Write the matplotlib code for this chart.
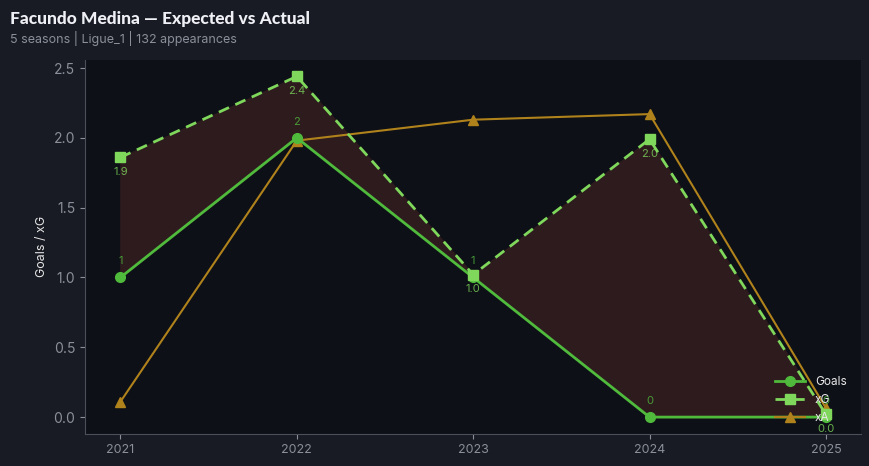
import matplotlib
matplotlib.use("Agg")
import matplotlib.pyplot as plt

seasons = [2021, 2022, 2023, 2024, 2025]
goals = [1, 2, 1, 0, 0]
xg = [1.86, 2.44, 1.02, 1.99, 0.02]
xa = [0.11, 1.98, 2.13, 2.17, 0.065]
title = "Facundo Medina — Expected vs Actual"
subtitle = "5 seasons | Ligue_1 | 132 appearances"

plt.rcParams['font.family'] = ['Inter', 'DejaVu Sans']

fig = plt.figure(figsize=(8.69, 4.66), dpi=100, facecolor='#181b23')
ax = fig.add_axes([0.098, 0.069, 0.893, 0.803])
ax.set_facecolor('#0d1016')

c_goals = '#4fba3c'
c_xg = '#7fd85c'
c_xa = '#b0821c'

ax.fill_between(seasons, goals, xg, color='#2e1b1e', zorder=1)
ax.plot(seasons, goals, color=c_goals, lw=2, marker='o', ms=7, label='Goals', zorder=3)
ax.plot(seasons, xg, color=c_xg, lw=2, ls=(0, (4, 2.5)), marker='s', ms=7, label='xG', zorder=3)
ax.plot(seasons, xa, color=c_xa, lw=1.5, marker='^', ms=7, label='xA', zorder=2)

for x, g in zip(seasons, goals):
    ax.annotate(f"{g}", (x, g), xytext=(0, 8), textcoords='offset points',
                ha='center', va='bottom', color=c_goals, fontsize=8, alpha=0.8)
for x, v in zip(seasons, xg):
    ax.annotate(f"{v:.1f}", (x, v), xytext=(0, -7), textcoords='offset points',
                ha='center', va='top', color=c_xg, fontsize=8, alpha=0.8)

ax.set_xlim(2020.8, 2025.2)
ax.set_ylim(-0.12, 2.56)
ax.set_xticks(seasons)
ax.set_xticklabels([str(s) for s in seasons])
ax.set_yticks([0, 0.5, 1.0, 1.5, 2.0, 2.5])
ax.tick_params(colors='#8a8f99', labelsize=9)
ax.tick_params(axis='y', labelsize=10)
for s in ['top', 'right']:
    ax.spines[s].set_visible(False)
for s in ['left', 'bottom']:
    ax.spines[s].set_color('#4a4f59')
ax.set_ylabel('Goals / xG', color='#e6e6e6', fontsize=9)

leg = ax.legend(loc='lower right', frameon=False, fontsize=8.5, labelcolor='#e8e8e8',
                handlelength=2.6, bbox_to_anchor=(0.995, -0.002))

fig.text(0.011, 0.96, title, fontsize=12.5, fontweight='black', color='#eef0f5',
         family=['Lato', 'DejaVu Sans'], va='center')
fig.text(0.011, 0.918, subtitle, fontsize=9, color='#8a8f99', va='center')

fig.savefig('out.png', dpi=100, facecolor=fig.get_facecolor())
